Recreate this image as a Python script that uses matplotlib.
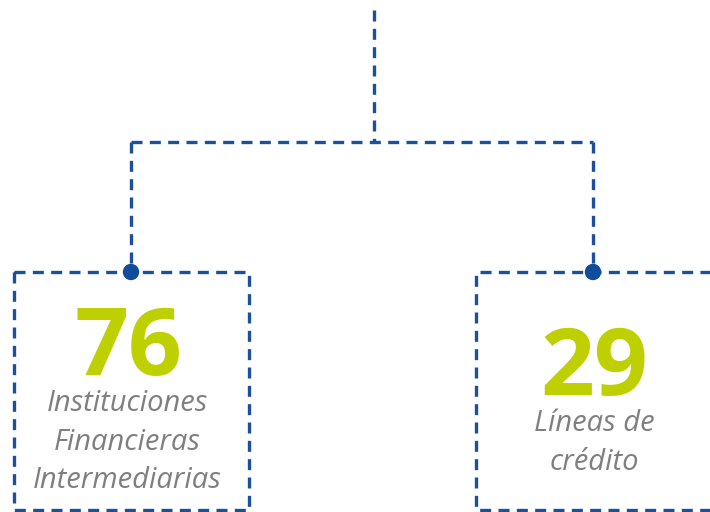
import matplotlib.pyplot as plt
from matplotlib.patches import Circle

# values and labels
values = ['76', '29']
labels = ['Instituciones\nFinancieras\nIntermediarias', 'Líneas de\ncrédito']

blue = '#1c4f9c'
dot_blue = '#0f4c9a'
green = '#bfd000'
grey = '#7f7f7f'

fig = plt.figure(figsize=(7.1, 5.12), dpi=100)
ax = fig.add_axes([0, 0, 1, 1])
ax.set_xlim(0, 710)
ax.set_ylim(512, 0)
ax.axis('off')

ls = dict(color=blue, lw=2.4, linestyle=(0, (3.3, 2.2)))

# connectors
ax.plot([374, 374], [10, 142], **ls)
ax.plot([131, 593], [142, 142], **ls)
ax.plot([131, 131], [142, 272], **ls)
ax.plot([593, 593], [142, 272], **ls)

# boxes
ax.plot([14, 249, 249, 14, 14], [272, 272, 510, 510, 272], **ls)
ax.plot([720, 476, 476, 720], [272, 272, 510, 510], **ls)

for x in [131, 593]:
    ax.add_patch(Circle((x, 272), 7.5, color=dot_blue, zorder=5))

# numbers
ax.text(128, 351, values[0], ha='center', va='center', fontsize=68,
        fontweight='bold', color=green, family='Open Sans')
ax.text(594, 370, values[1], ha='center', va='center', fontsize=68,
        fontweight='bold', color=green, family='Open Sans')

# descriptions
ax.text(127, 442, labels[0], ha='center', va='center', fontsize=21,
        style='italic', color=grey, family='Open Sans', linespacing=1.45)
ax.text(594, 443, labels[1], ha='center', va='center', fontsize=21,
        style='italic', color=grey, family='Open Sans', linespacing=1.45)

fig.savefig('out.png', dpi=100)
